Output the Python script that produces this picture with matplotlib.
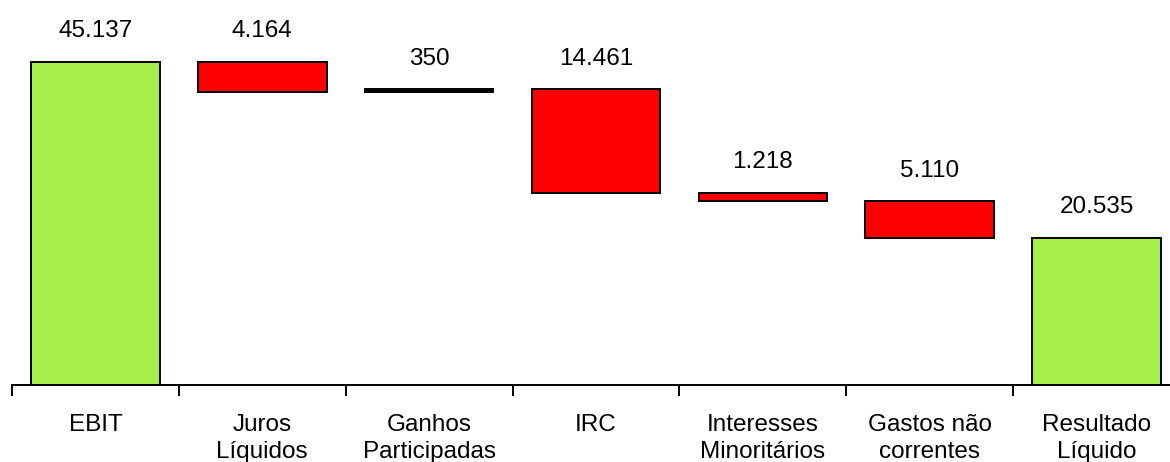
import numpy as np
import matplotlib
matplotlib.use("Agg")
import matplotlib.pyplot as plt

categories = ["EBIT", "Juros\nLíquidos", "Ganhos\nParticipadas", "IRC",
              "Interesses\nMinoritários", "Gastos não\ncorrentes", "Resultado\nLíquido"]
values = [45137, -4164, 350, -14461, -1218, -5110, 20535]
labels = ["45.137", "4.164", "350", "14.461", "1.218", "5.110", "20.535"]
kinds = ["total", "delta", "delta", "delta", "delta", "delta", "total"]

plt.rcParams["font.family"] = ["Liberation Sans", "DejaVu Sans"]

fig = plt.figure(figsize=(11.7, 4.62), dpi=100)
ax = fig.add_axes([12 / 1170, 77 / 462, 1 - 12 / 1170, 385 / 462])

green = "#a6ee4a"
red = "#ff0000"

x = np.arange(len(categories))
bottoms = []
heights = []
colors = []
running = 0
for v, k in zip(values, kinds):
    if k == "total":
        bottoms.append(0)
        heights.append(v)
        colors.append(green)
        running = v
    else:
        if v < 0:
            bottoms.append(running + v)
            colors.append(red)
        else:
            bottoms.append(running)
            colors.append("black")
        heights.append(abs(v))
        running += v

ax.bar(x, heights, bottom=bottoms, width=0.77, color=colors,
       edgecolor="black", linewidth=1.4, zorder=3)

for xi, b, h, t in zip(x, bottoms, heights, labels):
    ax.annotate(t, (xi, b + h), xytext=(0, 22), textcoords="offset points",
                ha="center", va="center", fontsize=17.5)

for s in ["top", "right", "left"]:
    ax.spines[s].set_visible(False)
ax.spines["bottom"].set_linewidth(1.4)
ax.set_yticks([])

ax.set_xticks(x)
ax.set_xticklabels(categories, fontsize=17.5, linespacing=1.28)
ax.tick_params(axis="x", which="major", length=0, pad=21)
ax.set_xticks(np.arange(-0.5, 7, 1.0), minor=True)
ax.tick_params(axis="x", which="minor", length=8, width=1.4, direction="out")

ax.set_xlim(-0.5, 6.44)
ax.set_ylim(0, 53800)

fig.savefig("out.png", dpi=100)
